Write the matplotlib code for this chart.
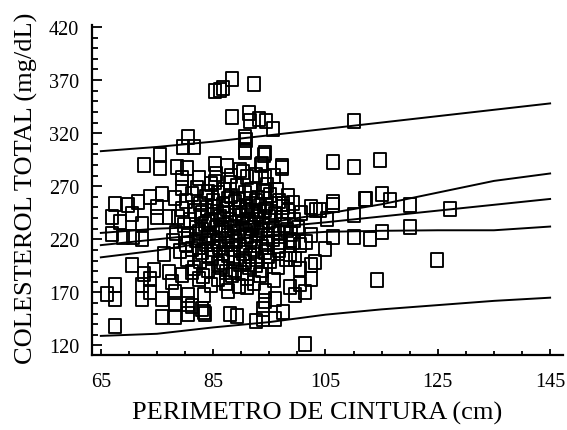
import matplotlib
matplotlib.use("Agg")
import matplotlib.pyplot as plt
from matplotlib.path import Path
from matplotlib.ticker import MultipleLocator

# waist perimeter (cm) vs total cholesterol (mg/dL), one entry per subject
cintura = [
    85.3, 86.2, 86.7, 88.4, 92.3,
    88.4, 91.4, 91.6, 93.2, 94.4, 95.7, 90.8, 90.7, 110.0,
    94.0, 93.7, 97.3, 106.4, 110.0, 114.7, 85.3, 87.5, 89.8,
    80.6, 79.7, 81.5,
    72.6, 75.6, 75.6, 78.5, 80.3, 82.4, 79.4, 79.4, 78.2,
    67.5, 69.9, 71.7, 73.8, 75.9, 67.0, 68.4, 70.5, 72.3, 75.0, 75.0, 77.1,
    72.3, 69.0, 67.0, 70.8,
    66.1, 67.5, 67.5, 67.5, 70.5, 76.2, 72.6, 74.4, 73.8, 72.3, 72.3, 73.8, 75.9,
    75.9, 78.2, 80.6, 83.3, 78.2, 80.6, 80.6, 78.2, 77.7, 77.1, 79.4, 81.2, 82.4,
    83.3, 81.2, 83.0,
    90.7, 90.7, 94.2, 93.6, 97.2, 94.2, 91.0, 85.3, 88.0, 94.2, 97.5, 102.5, 104.0, 89.4,
    115.0, 116.5, 112.3, 120.1, 110.0, 106.4, 105.2, 103.4, 120.1, 115.0, 112.9,
    110.0, 106.4, 104.9, 103.1, 124.8, 114.1, 127.2,
    101.4, 83.5, 88.0, 89.2, 92.7, 93.9, 96.0, 97.5, 93.9, 94.2, 96.0, 94.2, 91.0,
    87.7, 98.7, 99.6, 100.5, 101.4, 102.5, 102.5, 100.5, 99.3, 101.6, 98.7, 99.6,
    102.5, 98.7, 100.5, 106.4, 112.1,
    82.1, 84.6, 86.9, 89.3, 91.8, 94.6, 96.4,
    81.3, 83.7, 85.8, 88.2, 90.6, 92.9, 95.1, 98.3,
    80.2, 82.6, 84.9, 86.7, 88.9, 90.9, 92.7, 94.4, 96.8, 99.2,
    79.4, 81.8, 83.9, 85.6, 87.4, 89.1, 90.8, 92.6, 94.2, 96.1, 98.4, 100.6,
    78.7, 80.9, 82.8, 84.7, 86.3, 88.0, 89.6, 91.4, 93.1, 94.9, 97.2, 99.4,
    79.8, 81.9, 83.6, 85.5, 87.1, 88.7, 90.3, 92.0, 93.8, 95.6, 97.7, 100.1,
    78.4, 80.6, 82.4, 84.2, 86.0, 87.7, 89.4, 91.1, 92.9, 94.7, 96.5, 98.9,
    77.9, 80.1, 82.0, 83.8, 85.7, 87.3, 89.0, 90.8, 92.6, 94.4, 96.9,
    79.1, 81.2, 83.1, 85.0, 86.8, 88.6, 90.4, 92.3, 94.3, 96.7,
    80.4, 82.7, 84.8, 86.7, 88.7, 90.6, 92.8, 95.2, 97.9,
    81.6, 84.1, 86.4, 88.9, 91.3, 93.7, 96.6,
    83.2, 85.9, 88.4, 91.0, 93.4, 95.8,
    84.6, 87.2, 89.6, 92.3,
    85.5, 88.1, 90.4, 92.6, 95.9,
    84.0, 87.6, 91.5, 93.9, 85.2, 89.7, 93.4, 95.3,
    83.1, 86.9, 90.1, 92.0, 84.3, 88.9, 92.3, 95.0,
    83.0, 86.6, 90.7, 93.5, 85.0, 88.3, 91.8, 95.6,
    82.5, 86.1, 89.8, 93.7, 84.1, 87.6, 91.5, 94.8,
    85.8, 89.8, 92.6, 87.3, 90.1, 96.8, 98.2, 97.5,
]
colesterol = [
    359.6, 360.6, 362.5, 371.0, 366.0,
    335.0, 339.0, 331.0, 333.0, 331.0, 324.0, 313.4, 304.0, 331.0,
    299.0, 291.0, 289.0, 293.0, 288.4, 294.6, 291.0, 289.0, 285.2,
    316.7, 307.3, 307.3,
    289.9, 299.3, 286.8, 288.4, 286.8, 277.3, 277.3, 267.9, 258.5,
    253.7, 252.0, 255.3, 260.0, 263.1, 241.1, 236.4, 244.2, 234.8, 250.6, 241.1, 241.1,
    220.6, 222.2, 225.3, 222.2,
    168.6, 176.5, 164.0, 138.7, 195.4, 206.4, 187.5, 190.7, 182.8, 176.5, 164.0, 170.0, 164.0,
    146.6, 146.6, 149.7, 151.3, 159.2, 159.2, 167.2, 170.2, 179.7, 189.0, 186.0, 189.0, 182.8,
    167.2, 157.6, 154.4,
    316.7, 302.5, 300.9, 289.9, 286.8, 278.9, 278.9, 274.2, 272.6, 264.7, 253.7, 250.6, 247.3, 258.4,
    263.1, 256.8, 258.4, 252.0, 242.6, 252.0, 239.5, 247.3, 231.7, 226.9, 220.6,
    222.2, 222.2, 211.2, 199.0, 200.1, 181.2, 248.9,
    121.4, 149.7, 149.7, 148.1, 143.4, 145.0, 145.0, 151.3, 154.4, 162.3, 163.9, 171.7, 175.0,
    171.7, 175.0, 167.2, 178.1, 170.2, 182.8, 195.4, 192.3, 217.5, 217.5, 206.4, 201.0,
    223.7, 219.1, 214.4, 255.3, 258.4,
    268.3, 272.5, 266.1, 270.4, 266.7, 271.2, 266.0,
    262.4, 259.6, 263.8, 261.1, 263.5, 259.2, 262.0, 260.7,
    255.8, 253.1, 256.4, 251.9, 254.8, 251.2, 255.9, 252.6, 256.1, 254.1,
    248.7, 246.2, 249.5, 245.3, 248.1, 244.6, 247.9, 244.2, 247.6, 243.9, 247.0, 245.2,
    241.2, 238.6, 242.0, 237.9, 241.4, 238.2, 241.8, 237.6, 240.7, 237.3, 240.4, 238.1,
    233.5, 230.2, 234.1, 230.8, 233.8, 230.4, 234.2, 230.9, 233.6, 230.1, 233.2, 231.0,
    225.9, 223.1, 226.7, 222.6, 226.2, 222.9, 226.5, 223.0, 226.3, 222.7, 225.8, 224.6,
    218.2, 215.4, 218.9, 215.1, 218.6, 215.3, 218.8, 215.0, 218.5, 215.7, 217.9,
    208.7, 211.0, 207.6, 210.7, 207.2, 210.9, 207.5, 210.4, 207.9, 210.2,
    201.3, 199.2, 202.5, 198.9, 202.1, 198.6, 201.8, 199.4, 201.6,
    193.4, 191.2, 194.3, 191.5, 194.0, 190.8, 193.5,
    185.6, 182.9, 186.2, 183.3, 186.6, 182.1,
    177.4, 179.1, 176.0, 178.5,
    281.2, 279.5, 283.7, 281.0, 279.8,
    264.5, 257.8, 258.0, 265.2, 250.3, 249.8, 250.9, 246.1,
    244.7, 243.4, 243.0, 246.5, 236.3, 235.6, 235.0, 241.0,
    228.7, 228.9, 228.2, 228.7, 220.8, 220.5, 220.3, 220.6,
    213.0, 212.6, 212.8, 212.4, 205.2, 204.9, 204.6, 204.1,
    196.8, 196.5, 196.2, 189.3, 188.4, 214.0, 228.5, 250.0,
]

# fitted line with 95% confidence and prediction limits
x_banda = [65, 75, 85, 95, 105, 115, 125, 135, 145]
pred_sup = [303, 307, 312, 318, 324, 330, 336, 342, 348]
conf_sup = [226, 230, 232, 236, 244, 253, 264, 275, 282]
ajuste = [214.5, 220, 225.5, 231, 236, 241.5, 247, 252.5, 258]
conf_inf = [203, 209.5, 218, 224, 227, 228, 228.5, 228.5, 232]
pred_inf = [129, 131, 137, 142, 149, 154, 158, 162, 165]

# slightly tall open square
cuadro = Path([(-0.42, -0.5), (0.42, -0.5), (0.42, 0.5), (-0.42, 0.5), (-0.42, -0.5)],
              [Path.MOVETO, Path.LINETO, Path.LINETO, Path.LINETO, Path.CLOSEPOLY])

plt.rcParams["font.family"] = "Liberation Serif"

fig = plt.figure(figsize=(5.67, 4.31), dpi=100)
ax = fig.add_axes([0.162, 0.174, 0.831, 0.766])

ax.plot(cintura, colesterol, linestyle="none", marker=cuadro, markersize=9.5,
        markerfacecolor="none", markeredgecolor="black", markeredgewidth=1.35)
for serie in (pred_sup, conf_sup, ajuste, conf_inf, pred_inf):
    ax.plot(x_banda, serie, color="black", linewidth=1.4)

ax.set_xlim(63.4, 147.3)
ax.set_ylim(111, 422)
ax.xaxis.set_minor_locator(MultipleLocator(5))
ax.yaxis.set_minor_locator(MultipleLocator(10))
ax.set_xticks([65, 85, 105, 125, 145])
ax.set_yticks([120, 170, 220, 270, 320, 370, 420])

for lado in ("top", "right"):
    ax.spines[lado].set_visible(False)
for lado in ("left", "bottom"):
    ax.spines[lado].set_linewidth(1.6)

ax.tick_params(axis="both", which="both", direction="in", width=1.3, labelsize=14.5)
ax.tick_params(axis="y", which="major", length=7, pad=9)
ax.tick_params(axis="y", which="minor", length=4)
ax.tick_params(axis="x", which="major", length=4, pad=12)
ax.tick_params(axis="x", which="minor", length=3)

ax.set_xlabel("PERIMETRO DE CINTURA (cm)", fontsize=19, va="center")
ax.set_ylabel("COLESTEROL TOTAL (mg/dL)", fontsize=19, va="center")
ax.xaxis.set_label_coords(0.478, -0.173)
ax.yaxis.set_label_coords(-0.138, 0.509)

fig.savefig("out.png", dpi=100)
